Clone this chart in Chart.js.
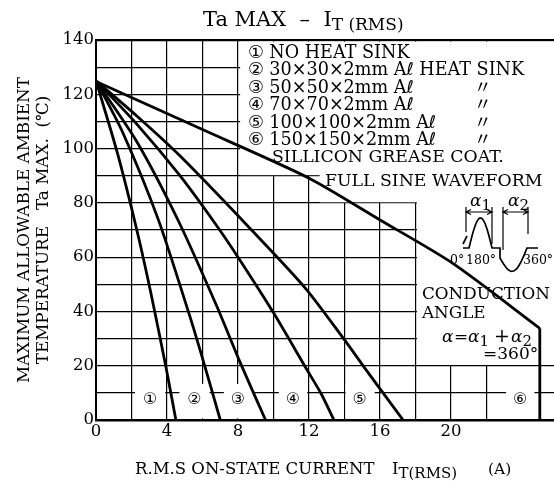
<!DOCTYPE html>
<html>
<head>
<meta charset="utf-8">
<script src="https://cdn.jsdelivr.net/npm/chart.js@4.4.1/dist/chart.umd.min.js"></script>
<style>
  html, body { margin: 0; padding: 0; background: #fff; }
  #wrap { width: 554px; height: 488px; position: relative; }
</style>
</head>
<body>
<div id="wrap"><canvas id="chart"></canvas></div>
<script>
// curves, current (A) vs Ta max (deg C)
const curve1X = [0, 1.2, 2.3, 3.1, 3.94, 4.5];
const curve1Y = [125, 98.5, 70, 46.5, 19.5, 0];
const curve2X = [0, 1.5, 3.5, 5.2, 6.1, 7.0];
const curve2Y = [125, 106, 74, 40, 20.5, 0];
const curve3X = [0, 2.3, 4.63, 6.8, 8.1, 9.55];
const curve3Y = [125, 102.5, 73.5, 42, 21.5, 0];
const curve4X = [0, 2.3, 4.73, 6.7, 8.0, 10.0, 11.84, 12.7, 13.4];
const curve4Y = [125, 109, 90, 72.5, 60, 39.5, 19, 9.5, 0];
const curve5X = [0, 2.3, 4.7, 8.76, 11.8, 14.0, 15.1, 17.3];
const curve5Y = [125, 112, 97.5, 70, 48.5, 29.5, 19.5, 0];
const curve6X = [0, 6, 12, 16, 20.1, 25.0];
const curve6Y = [124.7, 107, 89.1, 73.7, 57.7, 33.8];
// curve 6 drops straight down at its end
const dropX = [25.0, 25.0];
const dropY = [33.8, 0];

const curveNames = ["①", "②", "③", "④", "⑤", "⑥"];
const curveLabelX = [3.05, 5.55, 8.0, 11.1, 14.85, 23.9];
const curveLabelY = 7.5;

const legendLines = [
  "① NO HEAT SINK",
  "② 30×30×2mm Aℓ HEAT SINK",
  "③ 50×50×2mm Aℓ",
  "④ 70×70×2mm Aℓ",
  "⑤ 100×100×2mm Aℓ",
  "⑥ 150×150×2mm Aℓ",
];

const xTickLabels = [0, 4, 8, 12, 16, 20, 24];
const yTickLabels = [0, 20, 40, 60, 80, 100, 120, 140];

const SERIF = "'DejaVu Serif', 'DejaVu Sans', 'Noto Sans CJK JP', serif";

function toPoints(xs, ys) {
  return xs.map((x, i) => ({ x: x, y: ys[i] }));
}

function makeDataset(xs, ys, name, tension) {
  return {
    label: name,
    data: toPoints(xs, ys),
    showLine: true,
    borderColor: "#000",
    borderWidth: 2.8,
    pointRadius: 0,
    tension: tension,
    fill: false,
  };
}

// white boxes behind the text, the grid is not drawn there
const blankBoxes = [
  { x0: 8.12, x1: 30, y0: 90.2, y1: 139.4 },
  { x0: 12.6, x1: 30, y0: 80.2, y1: 90.4 },
  { x0: 18.08, x1: 30, y0: 20.3, y1: 80.4 },
  { x0: 2.2, x1: 3.9, y0: 0.6, y1: 13.3 },
  { x0: 4.7, x1: 6.4, y0: 0.6, y1: 13.3 },
  { x0: 7.2, x1: 8.8, y0: 0.6, y1: 13.3 },
  { x0: 10.3, x1: 11.9, y0: 0.6, y1: 13.3 },
  { x0: 14.06, x1: 15.7, y0: 0.6, y1: 13.3 },
  { x0: 23.1, x1: 24.7, y0: 0.6, y1: 12.5 },
];

const blankPlugin = {
  id: "blank",
  beforeDatasetsDraw(chart) {
    const ctx = chart.ctx;
    const xs = chart.scales.x;
    const ys = chart.scales.y;
    ctx.save();
    ctx.fillStyle = "#fff";
    blankBoxes.forEach((b) => {
      const l = xs.getPixelForValue(b.x0);
      const r = Math.min(xs.getPixelForValue(b.x1), chart.width);
      const t = ys.getPixelForValue(b.y1);
      const btm = ys.getPixelForValue(b.y0);
      ctx.fillRect(l, t, r - l, btm - t);
    });
    ctx.restore();
  },
};

// text with a smaller, lowered subscript part
function subText(ctx, x, y, main, sub, size, subSize, style) {
  const st = style ? style + " " : "";
  ctx.font = st + size + "px " + SERIF;
  ctx.fillText(main, x, y);
  const w = ctx.measureText(main).width;
  ctx.font = subSize + "px " + SERIF;
  ctx.fillText(sub, x + w, y + 4);
  return x + w + ctx.measureText(sub).width;
}

function drawWave(ctx) {
  ctx.save();
  ctx.strokeStyle = "#000";
  ctx.lineWidth = 1.7;
  const base = 248;
  ctx.beginPath();
  ctx.moveTo(463, base);
  ctx.lineTo(469, base);
  for (let i = 0; i <= 30; i++) {
    const t = i / 30;
    ctx.lineTo(469 + t * 23, base - Math.sin(Math.PI * t) * 30);
  }
  ctx.lineTo(500, base);
  ctx.lineTo(500, base + 10);
  for (let i = 0; i <= 30; i++) {
    const t = i / 30;
    ctx.lineTo(500 + t * 27, base + 10 + Math.sin(Math.PI * t) * 18 - t * 10);
  }
  ctx.lineTo(538, base);
  ctx.stroke();
  // little trigger mark
  ctx.beginPath();
  ctx.moveTo(463, 244);
  ctx.lineTo(467, 236);
  ctx.stroke();
  // dimension bars and arrows
  ctx.lineWidth = 1.2;
  const bars = [[466, 232], [492, 244], [503, 250], [528, 234]];
  bars.forEach((b) => {
    ctx.beginPath();
    ctx.moveTo(b[0], 207);
    ctx.lineTo(b[0], b[1]);
    ctx.stroke();
  });
  [[466, 492], [503, 528]].forEach((p) => {
    ctx.beginPath();
    ctx.moveTo(p[0], 212);
    ctx.lineTo(p[1], 212);
    ctx.moveTo(p[0] + 5, 209.5); ctx.lineTo(p[0], 212); ctx.lineTo(p[0] + 5, 214.5);
    ctx.moveTo(p[1] - 5, 209.5); ctx.lineTo(p[1], 212); ctx.lineTo(p[1] - 5, 214.5);
    ctx.stroke();
  });
  ctx.restore();
}

const textPlugin = {
  id: "texts",
  afterDraw(chart) {
    const ctx = chart.ctx;
    const xs = chart.scales.x;
    const ys = chart.scales.y;
    ctx.save();
    ctx.fillStyle = "#000";
    ctx.textBaseline = "alphabetic";
    ctx.textAlign = "left";

    // title
    subText(ctx, 203, 26, "Ta MAX  –  I", "T (RMS)", 21, 17);

    // legend
    ctx.font = "17.6px " + SERIF;
    legendLines.forEach((s, i) => {
      ctx.fillText(s, 248, 57.5 + i * 17.5);
      if (i >= 2) ctx.fillText("〃", 474, 57.5 + i * 17.5);
    });
    ctx.font = "17.3px " + SERIF;
    ctx.fillText("SILLICON GREASE COAT.", 272, 162);
    ctx.fillText("FULL SINE WAVEFORM", 325, 186);

    // waveform sketch
    drawWave(ctx);
    subText(ctx, 470, 206, "α", "1", 17, 15, "italic");
    subText(ctx, 508, 206, "α", "2", 17, 15, "italic");
    ctx.font = "12.5px " + SERIF;
    ctx.fillText("0°", 450, 264);
    ctx.fillText("180°", 466, 264);
    ctx.fillText("360°", 523, 264);

    ctx.font = "16.8px " + SERIF;
    ctx.fillText("CONDUCTION", 422, 299);
    ctx.fillText("ANGLE", 422, 318);
    ctx.font = "italic 17px " + SERIF;
    ctx.fillText("α", 442, 342);
    ctx.font = "17px " + SERIF;
    ctx.fillText("=", 454, 342);
    subText(ctx, 468, 342, "α", "1", 17, 15, "italic");
    ctx.font = "19px " + SERIF;
    ctx.fillText("+", 494, 342);
    subText(ctx, 511, 342, "α", "2", 17, 15, "italic");
    ctx.font = "17px " + SERIF;
    ctx.fillText("=360°", 483, 359);

    // curve numbers near the bottom
    ctx.font = "16px " + SERIF;
    ctx.textAlign = "center";
    ctx.textBaseline = "middle";
    curveNames.forEach((n, i) => {
      ctx.fillText(n, xs.getPixelForValue(curveLabelX[i]), ys.getPixelForValue(curveLabelY));
    });

    // axis titles
    ctx.textBaseline = "alphabetic";
    ctx.textAlign = "left";
    ctx.font = "16.5px " + SERIF;
    ctx.fillText("R.M.S ON-STATE CURRENT", 135, 474);
    subText(ctx, 392, 474, "I", "T(RMS)", 16.5, 15);
    ctx.font = "15.5px " + SERIF;
    ctx.fillText("(A)", 488, 474);

    ctx.save();
    ctx.translate(29, 230);
    ctx.rotate(-Math.PI / 2);
    ctx.textAlign = "center";
    ctx.font = "16.8px " + SERIF;
    ctx.fillText("MAXIMUM ALLOWABLE AMBIENT", 0, 0);
    ctx.fillText("TEMPERATURE   Ta MAX.  (℃)", 0, 19);
    ctx.restore();
    ctx.restore();
  },
};

const ctx = document.getElementById("chart");
new Chart(ctx, {
  type: "scatter",
  data: {
    datasets: [
      makeDataset(curve1X, curve1Y, "1", 0.25),
      makeDataset(curve2X, curve2Y, "2", 0.25),
      makeDataset(curve3X, curve3Y, "3", 0.25),
      makeDataset(curve4X, curve4Y, "4", 0.25),
      makeDataset(curve5X, curve5Y, "5", 0.25),
      makeDataset(curve6X, curve6Y, "6", 0.25),
      makeDataset(dropX, dropY, "6 drop", 0),
    ],
  },
  options: {
    responsive: true,
    maintainAspectRatio: false,
    animation: false,
    layout: { padding: { top: 40, left: 0, right: 0, bottom: 0 } },
    plugins: {
      legend: { display: false },
      tooltip: { enabled: false },
    },
    scales: {
      x: {
        type: "linear",
        min: 0,
        max: 25.8,
        afterBuildTicks: (scale) => {
          scale.ticks = scale.ticks.filter((t) => t.value % 2 === 0 && t.value <= 24);
        },
        afterFit: (scale) => { scale.height = 68; },
        ticks: {
          stepSize: 2,
          autoSkip: false,
          maxRotation: 0,
          padding: 2,
          color: "#000",
          font: { family: SERIF, size: 16.5 },
          callback: (v) => (xTickLabels.includes(v) ? String(v) : ""),
        },
        grid: { color: "#000", lineWidth: 1.2, drawTicks: false },
        border: { color: "#000", width: 2.5 },
      },
      y: {
        min: 0,
        max: 140,
        afterBuildTicks: (scale) => {
          scale.ticks = scale.ticks.filter((t) => t.value % 10 === 0);
        },
        afterFit: (scale) => { scale.width = 96; },
        ticks: {
          stepSize: 10,
          autoSkip: false,
          padding: 2,
          color: "#000",
          font: { family: SERIF, size: 16.5 },
          callback: (v) => (yTickLabels.includes(v) ? String(v) : ""),
        },
        grid: {
          color: "#000",
          drawTicks: false,
          lineWidth: (c) => (c.tick && c.tick.value === 140 ? 2.2 : 1.2),
        },
        border: { color: "#000", width: 2 },
      },
    },
  },
  plugins: [blankPlugin, textPlugin],
});
</script>
</body>
</html>
